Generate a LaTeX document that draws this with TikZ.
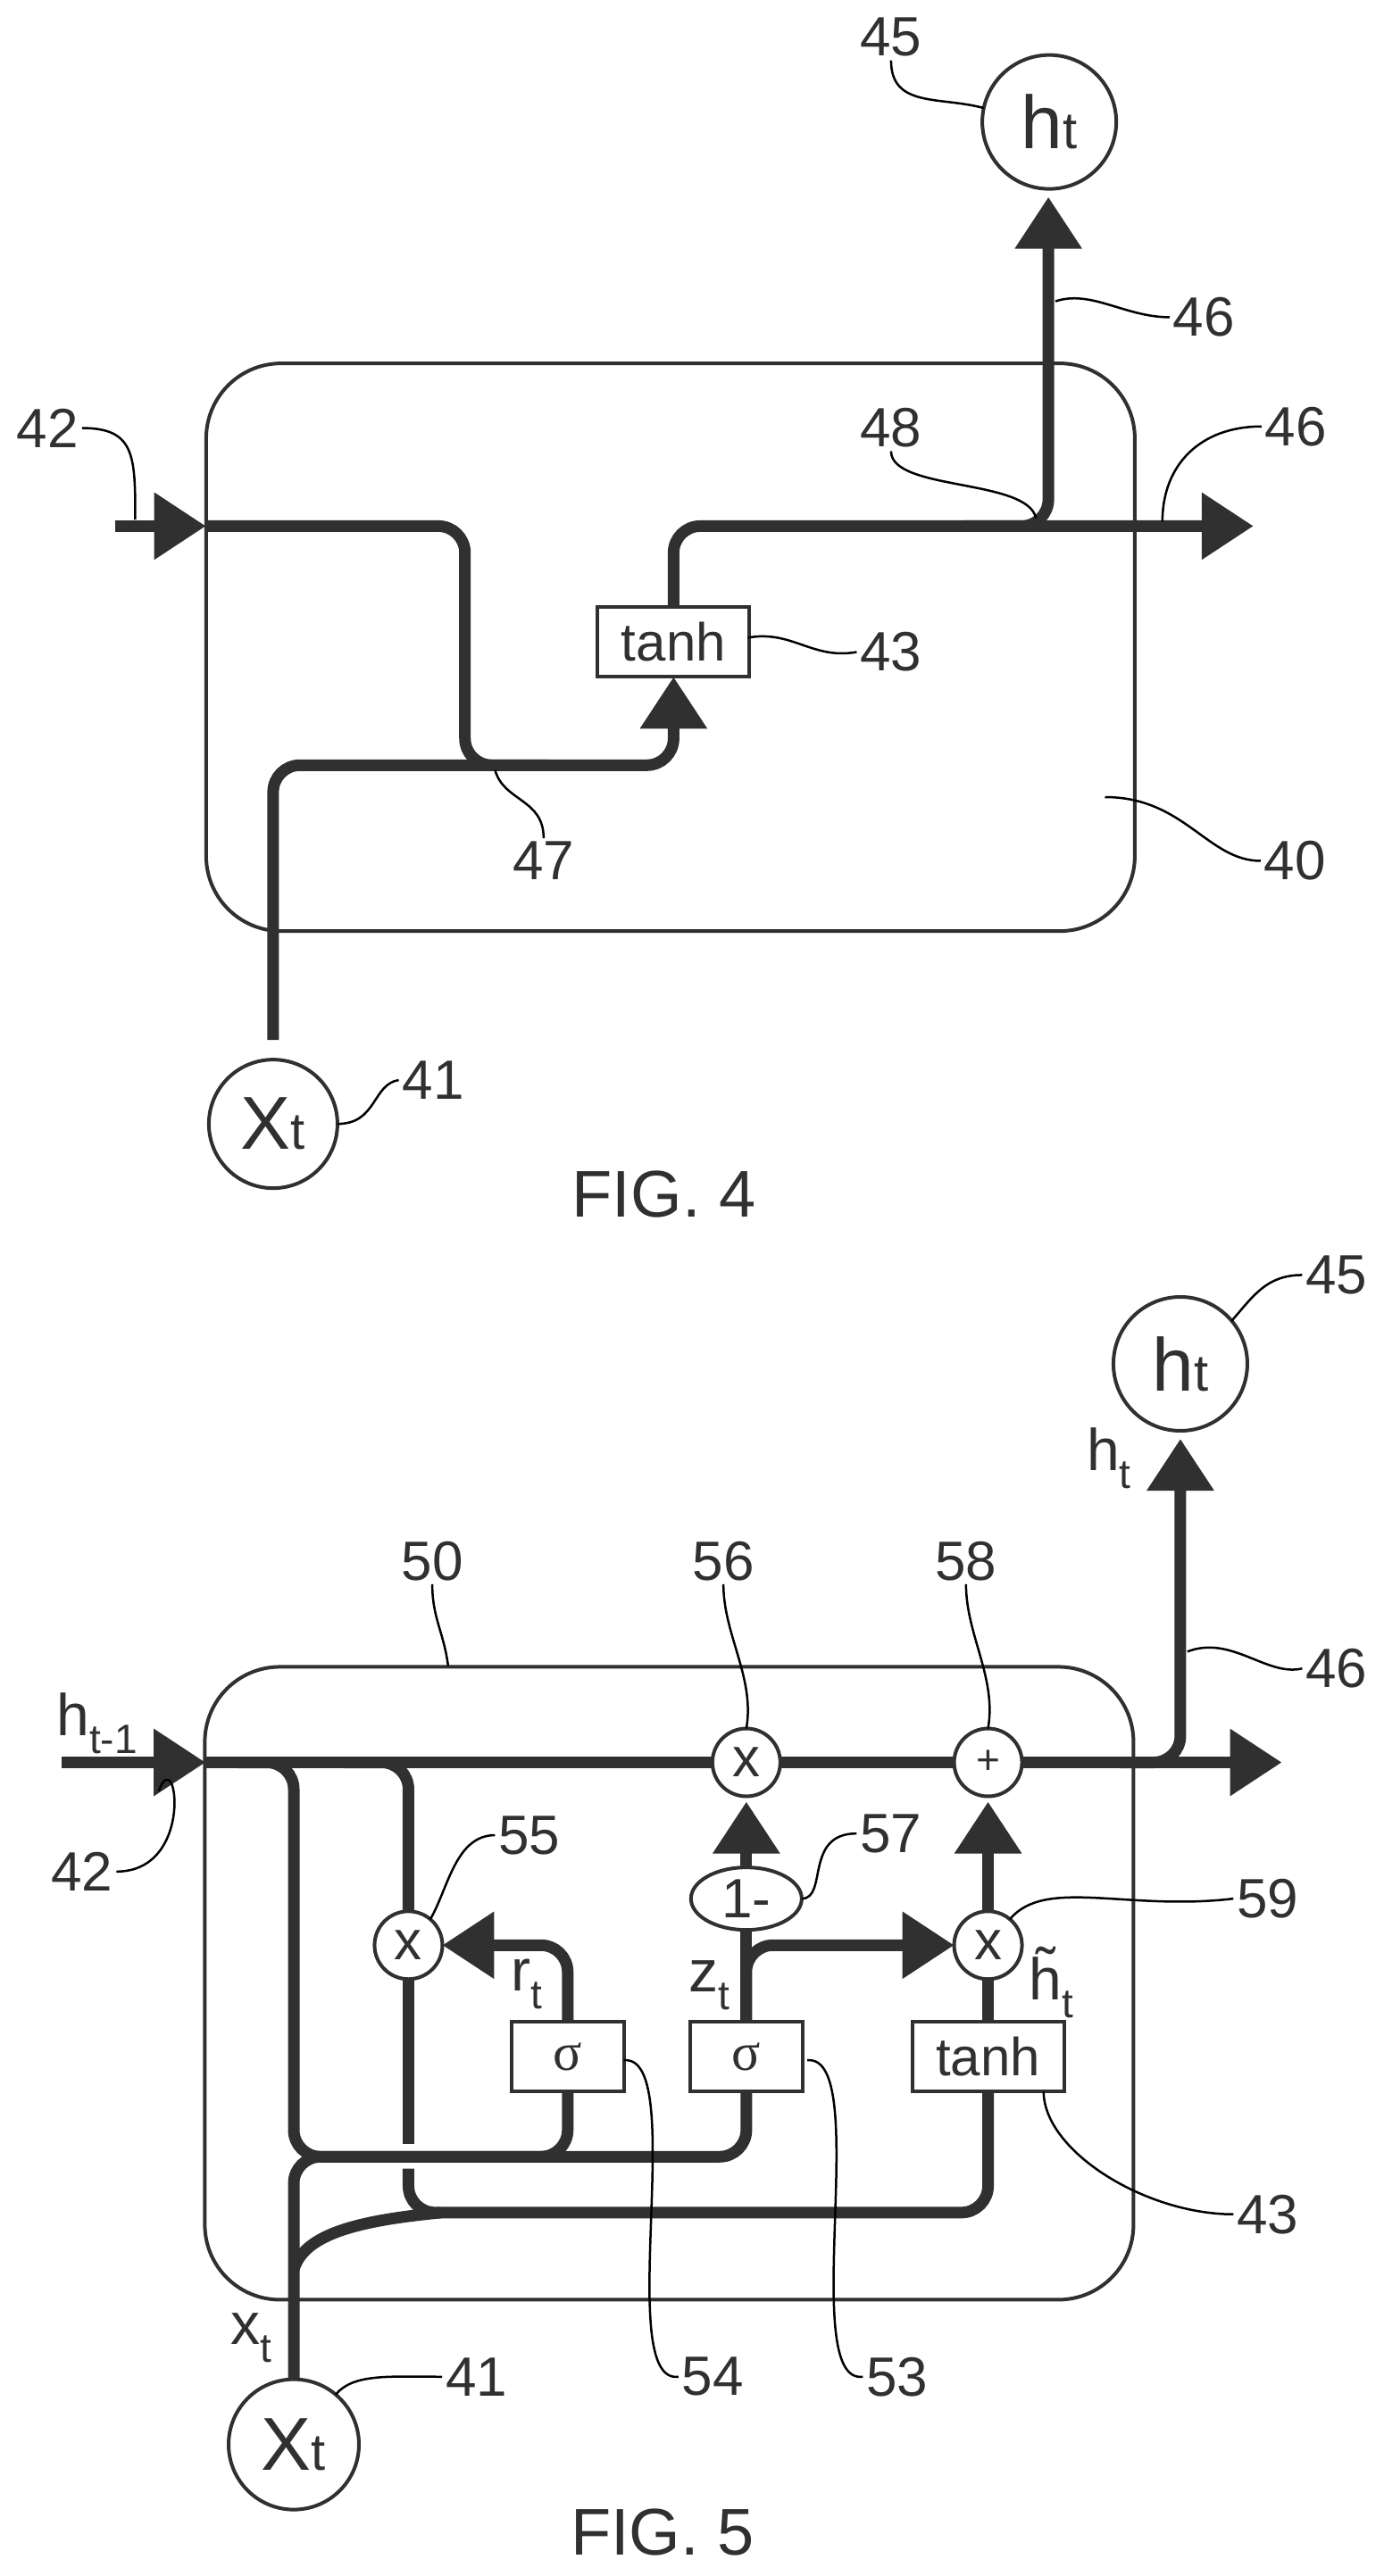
\documentclass[tikz,border=0pt]{standalone}
\usepackage{fontspec}
\setmainfont{Liberation Sans}
\newfontfamily\sgfont{Liberation Serif}
\usetikzlibrary{arrows.meta,shapes.geometric}
\definecolor{ink}{HTML}{303030}
\newcommand{\fs}[1]{\fontsize{#1}{#1}\selectfont}
\newcommand{\bigsym}[2]{\fs{42}#1\fs{29}#2}
\newcommand{\lowsub}[2]{\fs{33}#1\raisebox{-10pt}{\fs{23}#2}}
\newcommand{\tildeh}{\makebox[0pt][l]{\hspace{3.7pt}\raisebox{6pt}{\char"02DC}}h}
\tikzset{
  wire/.style={draw=ink,line width=6.5pt,rounded corners=15pt},
  headed/.style={wire,-{Triangle[length=29pt,width=36pt]}},
  frame/.style={draw=ink,line width=2pt,rounded corners=42pt,inner sep=0pt,outer sep=0pt,minimum width=520pt},
  ring/.style={circle,draw=ink,line width=2pt,inner sep=0pt,outer sep=0pt,text=ink},
  bigring/.style={ring,minimum size=75pt},
  opring/.style={ring,minimum size=38pt,font=\fs{31}},
  fnbox/.style={rectangle,draw=ink,line width=2pt,inner sep=0pt,outer sep=0pt,minimum height=39pt,text=ink,font=\fs{30}},
  num/.style={inner sep=0pt,outer sep=2pt,text=ink,font=\fs{31}},
  sigtext/.style={inner sep=0pt,text=ink},
  figtitle/.style={inner sep=0pt,text=ink,font=\fs{37}},
  leader/.style={draw=black,line width=1.25pt}
}
\begin{document}
\begin{tikzpicture}
\useasboundingbox (0,0) rectangle (775pt,-1443pt);
%% ---------- FIG. 4 ----------
\begin{scope}[x=.495pt,y=-.4465pt]
  \node[frame,minimum height=318pt] (box4) at (758.5,812) {};
  \node[bigring] (h4) at (1187,153) {\bigsym{h}{t}};
  \node[bigring,minimum size=72pt] (x4) at (309,1410) {\bigsym{X}{t}};
  \node[fnbox,minimum width=85pt] (tanh4) at (762,805.5) {tanh};
  \node[figtitle] (fig4) at (751,1498) {FIG. 4};
  \node[num] (l45) at (1008,47) {45};
  \node[num] (l46a) at (1362,398) {46};
  \node[num] (l42) at (54,537) {42};
  \node[num] (l48) at (1008,537) {48};
  \node[num] (l46b) at (1466,535) {46};
  \node[num] (l43) at (1008,818) {43};
  \node[num] (l47) at (615,1080) {47};
  \node[num] (l40) at (1465,1080) {40};
  \node[num] (l41) at (490,1355) {41};
  \coordinate (in4s) at (130,660);
  \coordinate (in4e) at (233,660);
  \coordinate (d4a) at (526,660);
  \coordinate (d4b) at (526,960);
  \coordinate (m4) at (620,960);
  \coordinate (u4a) at (309,960);
  \coordinate (u4b) at (762,960);
  \coordinate (o4a) at (762,660);
  \coordinate (o4b) at (1418,660);
  \coordinate (s4) at (1090,660);
  \coordinate (s4b) at (1186,660);
  \coordinate (t46a) at (1194,378);
  \coordinate (t42) at (153,652);
  \coordinate (t48) at (1172,650);
  \coordinate (t46b) at (1315,654);
  \coordinate (t47) at (560,966);
  \coordinate (t40) at (1250,1000);
  \coordinate (t43a) at (846,800);
  \draw[headed] (in4s) -- (in4e);
  \draw[wire] (in4e) -- (d4a) -- (d4b) -- (m4);
  \draw[headed,shorten <=11pt] (x4.north) -- (u4a) -- (u4b) -- (tanh4.south);
  \draw[headed] (tanh4.north) -- (o4a) -- (o4b);
  \draw[headed,shorten >=4.5pt] (s4) -- (s4b) -- (s4b |- h4.south);
  \draw[leader] (l45.south) .. controls +(0,60) and +(-50,-15) .. (h4.168);
  \draw[leader] (t46a) .. controls +(40,-15) and +(-50,0) .. (l46a.west);
  \draw[leader] (l42.east) .. controls +(60,0) and +(0,-80) .. (t42);
  \draw[leader] (l48.south) .. controls +(0,50) and +(-10,-50) .. (t48);
  \draw[leader] (l46b.west) .. controls +(-70,0) and +(0,-70) .. (t46b);
  \draw[leader] (t43a) .. controls +(50,-10) and +(-50,10) .. (l43.west);
  \draw[leader] (l47.north) .. controls +(0,-50) and +(10,40) .. (t47);
  \draw[leader] (t40) .. controls +(90,0) and +(-60,0) .. (l40.west);
  \draw[leader] (x4.east) .. controls +(45,0) and +(-30,5) .. (l41.west);
\end{scope}
%% ---------- FIG. 5 ----------
\begin{scope}[yshift=-700pt,x=.494pt,y=-.474pt]
  \node[frame,minimum height=354.5pt] (box5) at (758.5,867) {};
  \node[bigring] (h5) at (1338,135) {\bigsym{h}{t}};
  \node[bigring,minimum size=73pt] (x5) at (333,1412) {\bigsym{X}{t}};
  \node[opring] (c55) at (463,822) {x};
  \node[opring] (c56) at (846,606) {x};
  \node[opring] (c58) at (1120,606) {\fs{23}+};
  \node[opring] (c59) at (1120,822) {x};
  \node[ring,ellipse,minimum width=62pt,minimum height=35pt,font=\fs{31}] (e57) at (846,767) {1-};
  \node[fnbox,minimum width=63pt] (sig54) at (643.5,954) {\sgfont σ};
  \node[fnbox,minimum width=63pt] (sig53) at (846,954) {\sgfont σ};
  \node[fnbox,minimum width=85pt] (tanh5) at (1120,954) {tanh};
  \node[figtitle] (fig5) at (751,1516) {FIG. 5};
  \node[sigtext] (sh1) at (110,560) {\lowsub{h}{t-1}};
  \node[sigtext] (sht) at (1257,247) {\lowsub{h}{t}};
  \node[sigtext] (srt) at (597,868) {\lowsub{r}{t}};
  \node[sigtext] (szt) at (804,869) {\lowsub{z}{t}};
  \node[sigtext] (shh) at (1192,866) {\lowsub{\tildeh}{t}};
  \node[sigtext] (sxt) at (285,1286) {\lowsub{x}{t}};
  \node[num] (n45) at (1515,30) {45};
  \node[num] (n46) at (1515,495) {46};
  \node[num] (n50) at (490,368) {50};
  \node[num] (n56) at (820,368) {56};
  \node[num] (n58) at (1095,368) {58};
  \node[num] (n55) at (600,692) {55};
  \node[num] (n57) at (1010,690) {57};
  \node[num] (n59) at (1437,767) {59};
  \node[num] (n42) at (93,735) {42};
  \node[num] (n54) at (808,1332) {54};
  \node[num] (n53) at (1017,1332) {53};
  \node[num] (n43) at (1437,1140) {43};
  \node[num] (n41) at (540,1332) {41};
  \coordinate (in5s) at (70,606);
  \coordinate (in5e) at (233,606);
  \coordinate (o5) at (1453,606);
  \coordinate (b5a) at (1270,606);
  \coordinate (b5b) at (1338,606);
  \coordinate (p1a) at (333,606);
  \coordinate (p1s) at (270,606);
  \coordinate (p1b) at (333,1072);
  \coordinate (p1c) at (643.5,1072);
  \coordinate (p2s) at (390,606);
  \coordinate (p2a) at (463,606);
  \coordinate (p2g) at (463,1057);
  \coordinate (p2h) at (463,1086);
  \coordinate (p2b) at (463,1138);
  \coordinate (p2c) at (1120,1138);
  \coordinate (p3c) at (846,1072);
  \coordinate (q1) at (333,1205);
  \coordinate (q2) at (500,1138);
  \coordinate (r1) at (643.5,822);
  \coordinate (z1) at (846,822);
  \coordinate (t50) at (508,492);
  \coordinate (t46c) at (1346,475);
  \coordinate (t42c) at (180,640);
  \coordinate (t43c) at (1183,995);
  \coordinate (t54) at (707,958);
  \coordinate (t53) at (915,958);
  \draw[headed] (in5s) -- (in5e);
  \draw[wire] (in5e) -- (c56.west);
  \draw[wire] (c56.east) -- (c58.west);
  \draw[headed] (c58.east) -- (o5);
  \draw[headed,shorten >=4.5pt] (b5a) -- (b5b) -- (h5.south);
  \draw[wire] (p1s) -- (p1a) -- (p1b) -- (p1c) -- (sig54.south);
  \draw[wire] (x5.north) -- (p1b) -- (p3c) -- (sig53.south);
  \draw[wire] (p2s) -- (p2a) -- (c55.north);
  \draw[wire] (c55.south) -- (p2g);
  \draw[wire] (p2h) -- (p2b) -- (p2c) -- (tanh5.south);
  \draw[draw=ink,line width=6.5pt] (q1) .. controls +(12,-40) and +(-100,10) .. (q2);
  \draw[headed] (sig54.north) -- (r1) -- (c55.east);
  \draw[wire] (sig53.north) -- (e57.south);
  \draw[headed] (sig53.north) -- (z1) -- (c59.west);
  \draw[headed,shorten >=3pt] (e57.north) -- (c56.south);
  \draw[headed,shorten >=3pt] (c59.north) -- (c58.south);
  \draw[wire] (tanh5.north) -- (c59.south);
  \draw[leader] (h5.40) .. controls +(25,-30) and +(-40,0) .. (n45.west);
  \draw[leader] (t46c) .. controls +(50,-20) and +(-40,10) .. (n46.west);
  \draw[leader] (n50.south) .. controls +(0,40) and +(-5,-40) .. (t50);
  \draw[leader] (n56.south) .. controls +(0,60) and +(10,-60) .. (c56.north);
  \draw[leader] (n58.south) .. controls +(0,60) and +(10,-60) .. (c58.north);
  \draw[leader] (n55.west) .. controls +(-45,0) and +(20,-35) .. (c55.50);
  \draw[leader] (n57.west) .. controls +(-60,0) and +(30,0) .. (e57.east);
  \draw[leader] (n59.west) .. controls +(-120,15) and +(40,-50) .. (c59.50);
  \draw[leader] (n42.east) .. controls +(90,0) and +(20,-60) .. (t42c);
  \draw[leader] (t54) .. controls +(75,-8) and +(-75,10) .. (n54.west);
  \draw[leader] (t53) .. controls +(75,-8) and +(-75,10) .. (n53.west);
  \draw[leader] (t43c) .. controls +(0,70) and +(-100,0) .. (n43.west);
  \draw[leader] (x5.50) .. controls +(20,-25) and +(-60,0) .. (n41.west);
\end{scope}
\end{tikzpicture}
\end{document}
